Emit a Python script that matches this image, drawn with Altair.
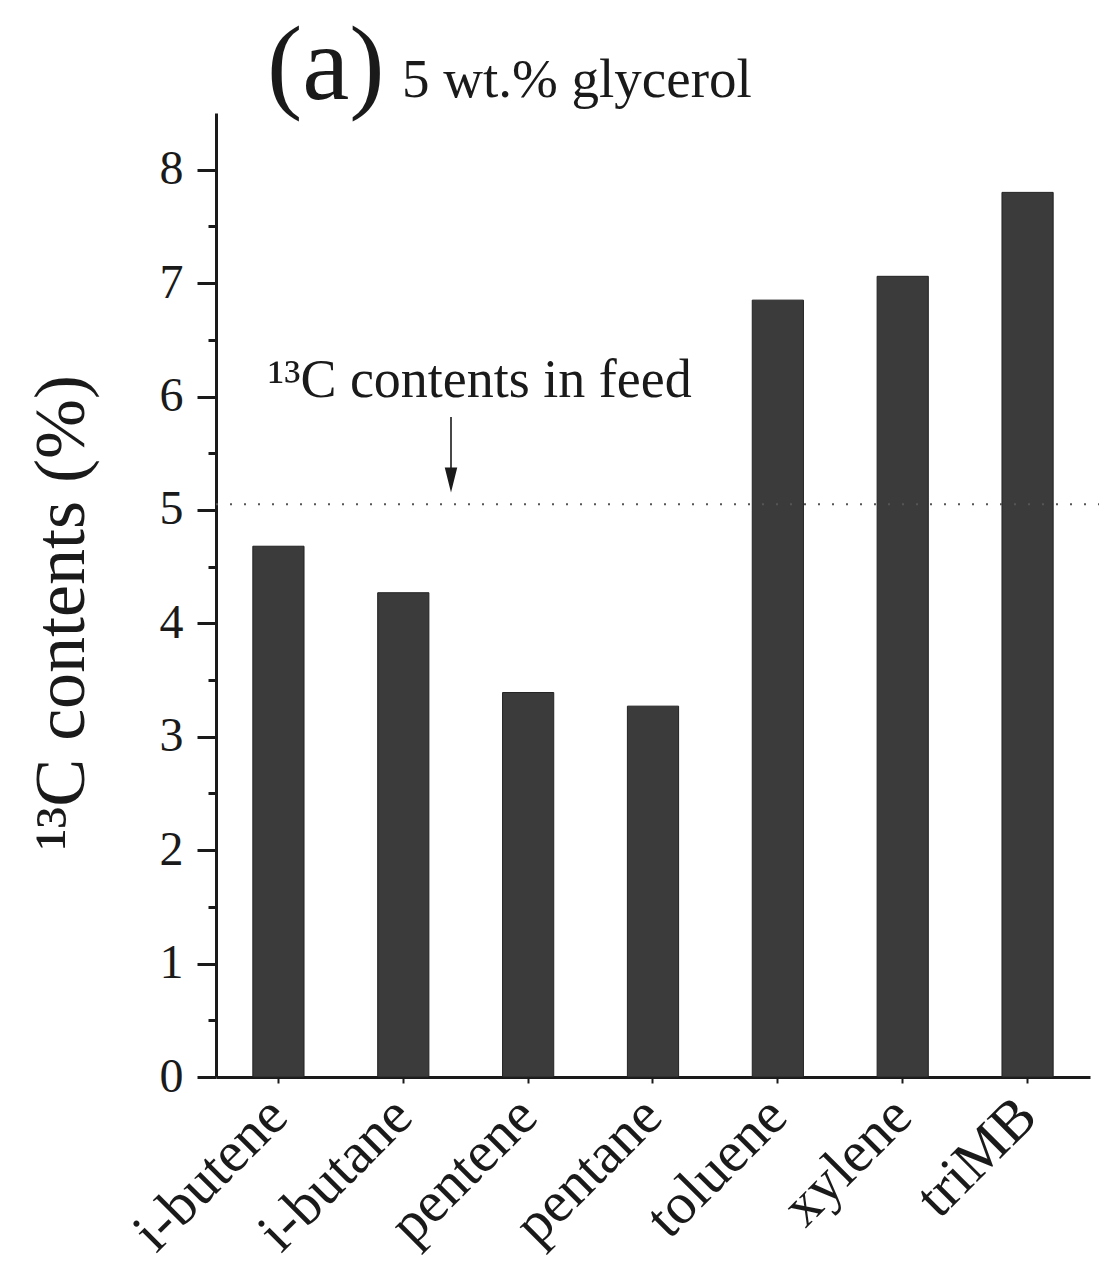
import altair as alt
import pandas as pd

# ---- data ----
categories = ["i-butene", "i-butane", "pentene", "pentane", "toluene", "xylene", "triMB"]
values = [4.68, 4.27, 3.39, 3.27, 6.85, 7.06, 7.80]
feed_level = [5.05]
y_tick_values = [0, 0.5, 1, 1.5, 2, 2.5, 3, 3.5, 4, 4.5, 5, 5.5, 6, 6.5, 7, 7.5, 8]
arrow_top = [5.82]
arrow_bottom = [5.36]
arrow_head = [5.265]
annotation_level = [6.0]
annotation_text = ["¹³C contents in feed"]
panel_label = ["(a)"]
panel_subtitle = ["5 wt.% glycerol"]

FONT = "Liberation Serif"
INK = "#1a1a1a"

bars_df = pd.DataFrame({"compound": categories, "c13": values})

x_enc = alt.X(
    "compound:N",
    sort=categories,
    scale=alt.Scale(paddingInner=0.59, paddingOuter=0.295),
    axis=alt.Axis(
        title=None,
        labelAngle=-45,
        labelAlign="right",
        labelBaseline="middle",
        labelFont=FONT,
        labelFontSize=58,
        labelColor=INK,
        labelPadding=24,
        labelLimit=600,
        labelOverlap=False,
        tickSize=6,
        tickWidth=2,
        tickColor=INK,
        domainColor=INK,
        domainWidth=3,
        grid=False,
    ),
)

y_scale = alt.Scale(domain=[0, 8.5], nice=False, zero=True)

y_enc = alt.Y(
    "c13:Q",
    scale=y_scale,
    axis=alt.Axis(
        values=y_tick_values,
        labelExpr="datum.value % 1 === 0 ? format(datum.value, 'd') : ''",
        labelFont=FONT,
        labelFontSize=48,
        labelColor=INK,
        labelPadding=14,
        labelOverlap=False,
        tickSize={"condition": {"test": "datum.value % 1 === 0", "value": 19}, "value": 8},
        tickWidth=3,
        tickColor=INK,
        domainColor=INK,
        domainWidth=3,
        grid=False,
        title="¹³C contents (%)",
        titleFont=FONT,
        titleFontSize=72,
        titleFontWeight="normal",
        titleColor=INK,
        titleAngle=-90,
        titleAlign="center",
        titleBaseline="alphabetic",
        titleX=-133,
        titleY=499,
    ),
)

bars = alt.Chart(bars_df).mark_bar(color="#3b3b3b", stroke="#222222", strokeWidth=1).encode(
    x=x_enc, y=y_enc
)

feed_df = pd.DataFrame({"feed": feed_level})
feed_line = alt.Chart(feed_df).mark_rule(
    color="#555555", strokeWidth=2.2, strokeDash=[2, 12]
).encode(
    y=alt.Y("feed:Q", scale=y_scale),
    x=alt.value(0),
    x2=alt.value(883),
)

arrow_df = pd.DataFrame({"top": arrow_top, "bottom": arrow_bottom, "head": arrow_head})
arrow_shaft = alt.Chart(arrow_df).mark_rule(color=INK, strokeWidth=1.6).encode(
    x=alt.value(235),
    y=alt.Y("top:Q", scale=y_scale),
    y2="bottom:Q",
)
arrow_tip = alt.Chart(arrow_df).mark_point(
    shape="M-0.5,-1L0.5,-1L0,1Z", filled=True, size=625, color=INK, opacity=1
).encode(
    x=alt.value(235),
    y=alt.Y("head:Q", scale=y_scale),
)

annot_df = pd.DataFrame({"level": annotation_level, "label": annotation_text})
annotation = alt.Chart(annot_df).mark_text(
    font=FONT, fontSize=54, color=INK, align="left", baseline="alphabetic"
).encode(
    x=alt.value(52),
    y=alt.Y("level:Q", scale=y_scale),
    text="label:N",
)

title_a = alt.Chart(pd.DataFrame({"t": panel_label})).mark_text(
    font=FONT, fontSize=106, color=INK, align="left", baseline="alphabetic"
).encode(x=alt.value(51), y=alt.value(-14), text="t:N")

title_b = alt.Chart(pd.DataFrame({"t": panel_subtitle})).mark_text(
    font=FONT, fontSize=55, color=INK, align="left", baseline="alphabetic"
).encode(x=alt.value(186), y=alt.value(-16), text="t:N")

chart = alt.layer(
    bars, feed_line, arrow_shaft, arrow_tip, annotation, title_a, title_b
).properties(
    width=874,
    height=964,
    autosize=alt.AutoSizeParams(type="none"),
    padding={"left": 216, "top": 113, "right": 9, "bottom": 201},
    background="white",
).configure_view(stroke=None)

chart.save("out.html", embed_options={"renderer": "svg", "actions": False})
